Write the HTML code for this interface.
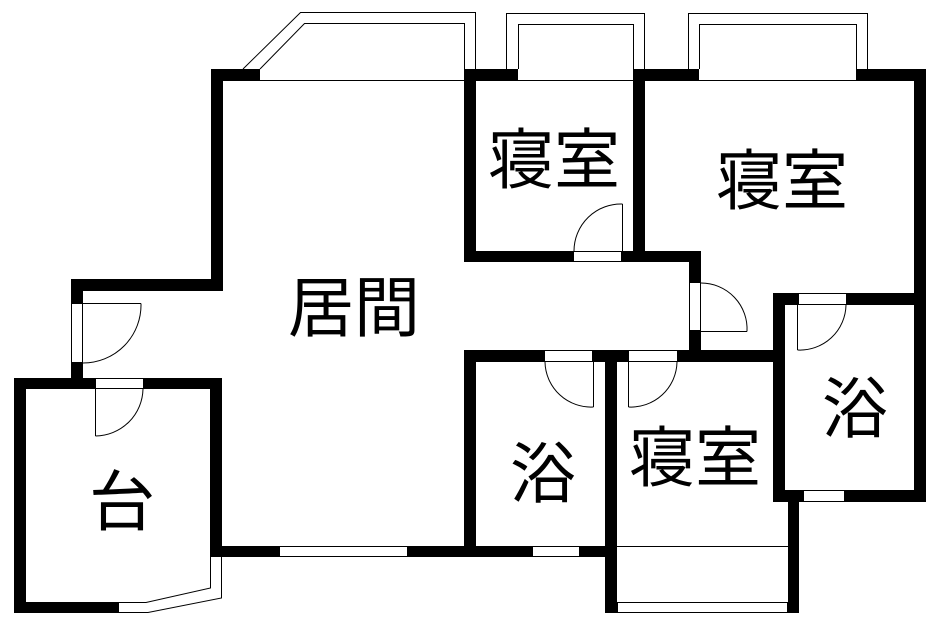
<!DOCTYPE html>
<html><head><meta charset="utf-8"><style>
html,body{margin:0;padding:0;background:#fff;}
svg{display:block;}
text{font-family:"Liberation Sans","Noto Sans CJK JP",sans-serif;font-size:66px;font-weight:400;fill:#000;}
</style></head><body>
<svg width="944" height="637" viewBox="0 0 944 637" xmlns="http://www.w3.org/2000/svg">
<rect width="944" height="637" fill="#fff"/>
<g fill="#000">
<rect x="211" y="69" width="49" height="12"/>
<rect x="464" y="69" width="54" height="12"/>
<rect x="633" y="69" width="66" height="12"/>
<rect x="856" y="69" width="70" height="12"/>
<rect x="211" y="69" width="12" height="222"/>
<rect x="71" y="279" width="152" height="12"/>
<rect x="71" y="279" width="12" height="24"/>
<rect x="71" y="363" width="12" height="26"/>
<rect x="14" y="378" width="81" height="11"/>
<rect x="144" y="378" width="78" height="11"/>
<rect x="14" y="378" width="12" height="235"/>
<rect x="210" y="378" width="12" height="179"/>
<rect x="14" y="602" width="105" height="11"/>
<rect x="211" y="546" width="68" height="11"/>
<rect x="408" y="546" width="124" height="11"/>
<rect x="580" y="546" width="37" height="11"/>
<rect x="464" y="69" width="12" height="193"/>
<rect x="464" y="251" width="109" height="11"/>
<rect x="622" y="251" width="78" height="11"/>
<rect x="633" y="69" width="12" height="193"/>
<rect x="689" y="251" width="12" height="31"/>
<rect x="689" y="331" width="12" height="31"/>
<rect x="914" y="69" width="12" height="433"/>
<rect x="773" y="293" width="25" height="12"/>
<rect x="847" y="293" width="79" height="12"/>
<rect x="773" y="293" width="12" height="209"/>
<rect x="773" y="490" width="30" height="12"/>
<rect x="845" y="490" width="81" height="12"/>
<rect x="464" y="350" width="80" height="12"/>
<rect x="593" y="350" width="35" height="12"/>
<rect x="678" y="350" width="107" height="12"/>
<rect x="464" y="350" width="12" height="207"/>
<rect x="605" y="350" width="12" height="263"/>
<rect x="788" y="490" width="11" height="123"/>
<rect x="605" y="602" width="194" height="11"/>
</g>
<g fill="#fff" stroke="#000" stroke-width="1">
<rect x="617.5" y="602.5" width="170" height="10"/>
<rect x="279.5" y="546.5" width="128" height="10"/>
<rect x="532.5" y="546.5" width="47" height="10"/>
<rect x="803.5" y="490.5" width="41" height="11"/>
<rect x="573.5" y="251.5" width="48" height="10"/>
<rect x="689.5" y="282.5" width="11" height="48"/>
<rect x="798.5" y="293.5" width="48" height="11"/>
<rect x="544.5" y="350.5" width="48" height="11"/>
<rect x="628.5" y="350.5" width="49" height="11"/>
<rect x="95.5" y="378.5" width="48" height="10"/>
<rect x="71.5" y="303.5" width="11" height="59"/>
</g>
<g fill="none" stroke="#000" stroke-width="1">
<line x1="260" y1="80.5" x2="464" y2="80.5"/>
<line x1="518" y1="80.5" x2="633" y2="80.5"/>
<line x1="699" y1="80.5" x2="856" y2="80.5"/>
<polyline points="243,69 300.5,12.5 475.5,12.5 475.5,69"/>
<polyline points="260,69 304.5,23.5 464.5,23.5 464.5,69"/>
<polyline points="506.5,69 506.5,13.5 644.5,13.5 644.5,69"/>
<polyline points="518.5,69 518.5,24.5 633.5,24.5 633.5,69"/>
<polyline points="688.5,69 688.5,13.5 867.5,13.5 867.5,69"/>
<polyline points="699.5,69 699.5,24.5 856.5,24.5 856.5,69"/>
<polyline points="119,602.5 146,602.5 210.5,588 210.5,557"/>
<polyline points="119,612.5 148,612.5 221.5,598 221.5,557"/>
<line x1="617" y1="546.5" x2="788" y2="546.5"/>
<line x1="622.5" y1="251" x2="622.5" y2="204"/>
<path d="M622.5,204 A47,47 0 0 0 574,251"/>
<line x1="701" y1="331.5" x2="747" y2="331.5"/>
<path d="M747,331.5 A46,46 0 0 0 701,283"/>
<line x1="797.5" y1="305" x2="797.5" y2="350"/>
<path d="M797.5,350 A46,46 0 0 0 846,305"/>
<line x1="593.5" y1="362" x2="593.5" y2="407"/>
<path d="M593.5,407 A46,46 0 0 1 545,362"/>
<line x1="628.5" y1="362" x2="628.5" y2="407"/>
<path d="M628.5,407 A46,46 0 0 0 677,362"/>
<line x1="95.5" y1="389" x2="95.5" y2="436"/>
<path d="M95.5,436 A48,48 0 0 0 143,389"/>
<line x1="83" y1="303.5" x2="141" y2="303.5"/>
<path d="M141,303.5 A58,58 0 0 1 83,363"/>
</g>
<g text-anchor="middle" dominant-baseline="central">
<text x="554" y="160">寝室</text>
<text x="782" y="181">寝室</text>
<text x="354" y="308">居間</text>
<text x="122" y="502">台</text>
<text x="543" y="474">浴</text>
<text x="855" y="409">浴</text>
<text x="695" y="458">寝室</text>
</g>
</svg>
</body></html>
